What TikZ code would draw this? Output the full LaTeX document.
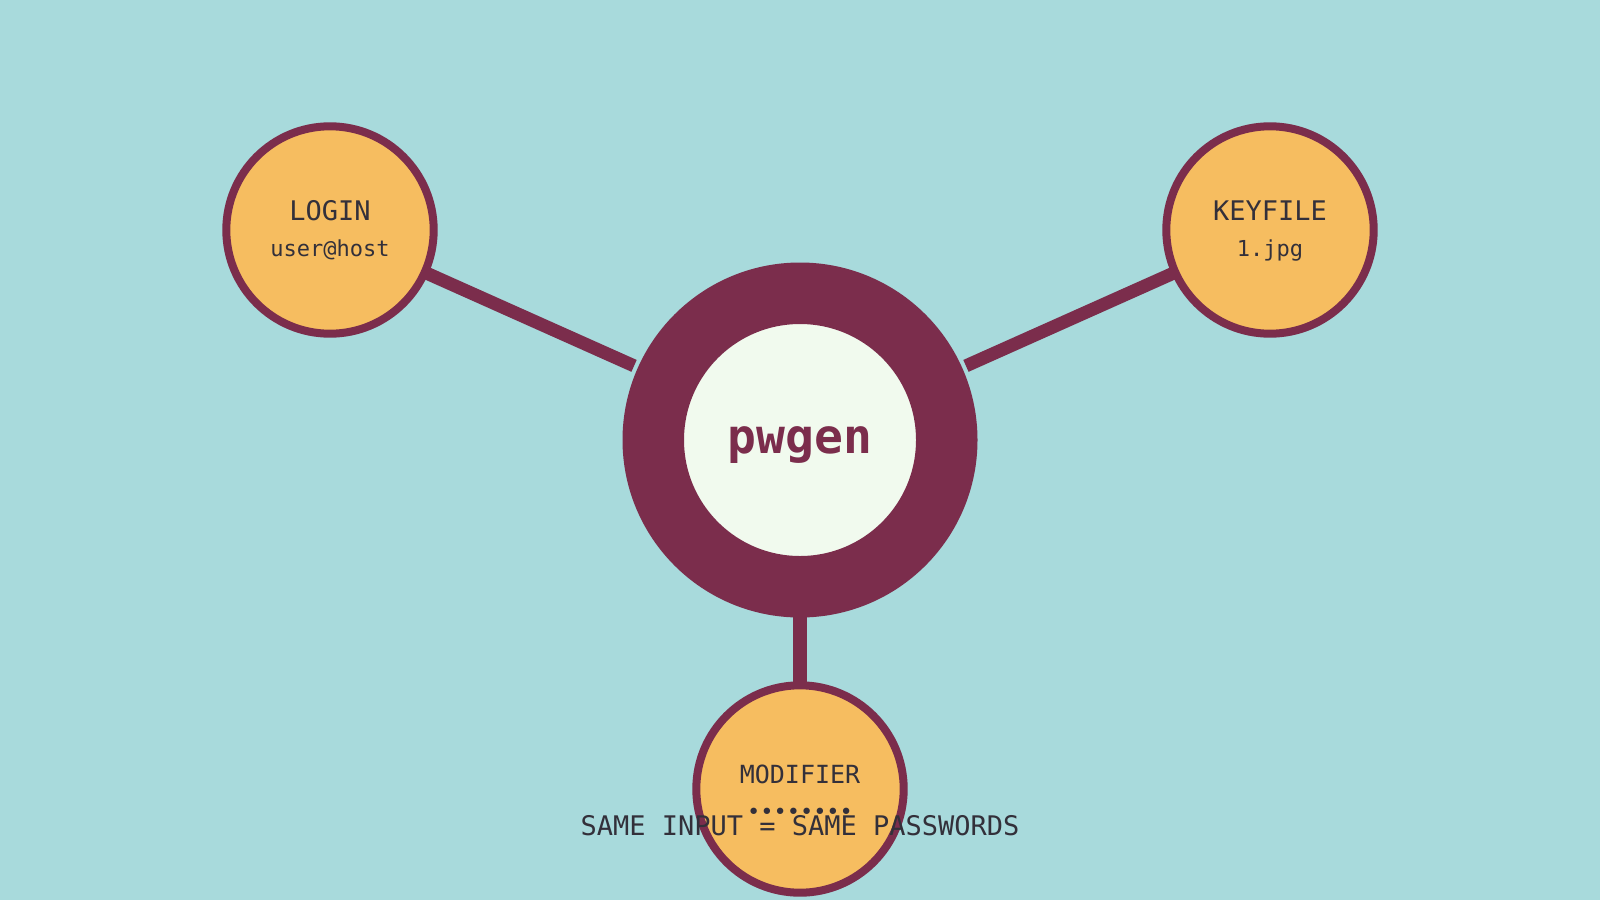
\documentclass[tikz,border=0pt]{standalone}
\usepackage{fontspec}
\setmonofont{DejaVu Sans Mono}
\usetikzlibrary{positioning, calc, backgrounds}
\definecolor{teal538}{HTML}{A8DADC}
\definecolor{sand538}{HTML}{F6BD60}
\definecolor{plum538}{HTML}{7B2D4C}
\definecolor{cream538}{HTML}{F1FAEE}
\definecolor{ink538}{HTML}{33303A}

\begin{document}
\begin{tikzpicture}[
          x = 1pt, y = -1pt,
          inner sep = 0, outer sep = 0,
          font = \ttfamily
        ]
          \tikzstyle {hub} = [draw = plum538, fill = cream538, shape = circle, line width = 61.5pt, minimum size = 293.5pt]
          \tikzstyle {input} = [draw = plum538, fill = sand538, shape = circle, line width = 8pt, minimum size = 207.4pt]
          \tikzstyle {title} = [anchor = base, text = ink538, font = \ttfamily\fontsize{27}{32}\selectfont]
          \tikzstyle {value} = [anchor = base, text = ink538, font = \ttfamily\fontsize{22}{26}\selectfont]
          \tikzstyle {link} = [draw = plum538, line width = 13pt]
          % background
          \fill [teal538] (0,0) rectangle (1600,900);
          \useasboundingbox (0,0) rectangle (1600,900);
          % place nodes
          \path node (pw) [hub] at (800,440) {};
          \path node (login) [input] at (330,230) {};
          \path node (keyfile) [input] at (1270,230) {};
          \path node (modifier) [input] at (800,789) {};
          % place edges
          \foreach \x in {login, keyfile}
            { \draw [link, shorten <= 35pt] (pw) -- (\x) ; } ;
          \draw [link, line width = 14.5pt] (pw) -- (modifier) ;
          % place texts
          \path node (pwlabel) [anchor = base, text = plum538, font = \ttfamily\bfseries\fontsize{48}{56}\selectfont] at (800,453) {pwgen};
          \path node (logintitle) [title] at (330,220) {LOGIN};
          \path node (loginvalue) [value] at (330,256) {user@host};
          \path node (keyfiletitle) [title] at (1270,220) {KEYFILE};
          \path node (keyfilevalue) [value] at (1270,256) {1.jpg};
          \path node (modifiertitle) [title, font = \ttfamily\fontsize{25}{30}\selectfont] at (800,783) {MODIFIER};
          \path node (modifiervalue) [value] at (800,819) {••••••••};
          \path node (motto) [title] at (800,835) {SAME INPUT = SAME PASSWORDS};
        \end{tikzpicture}
\end{document}
